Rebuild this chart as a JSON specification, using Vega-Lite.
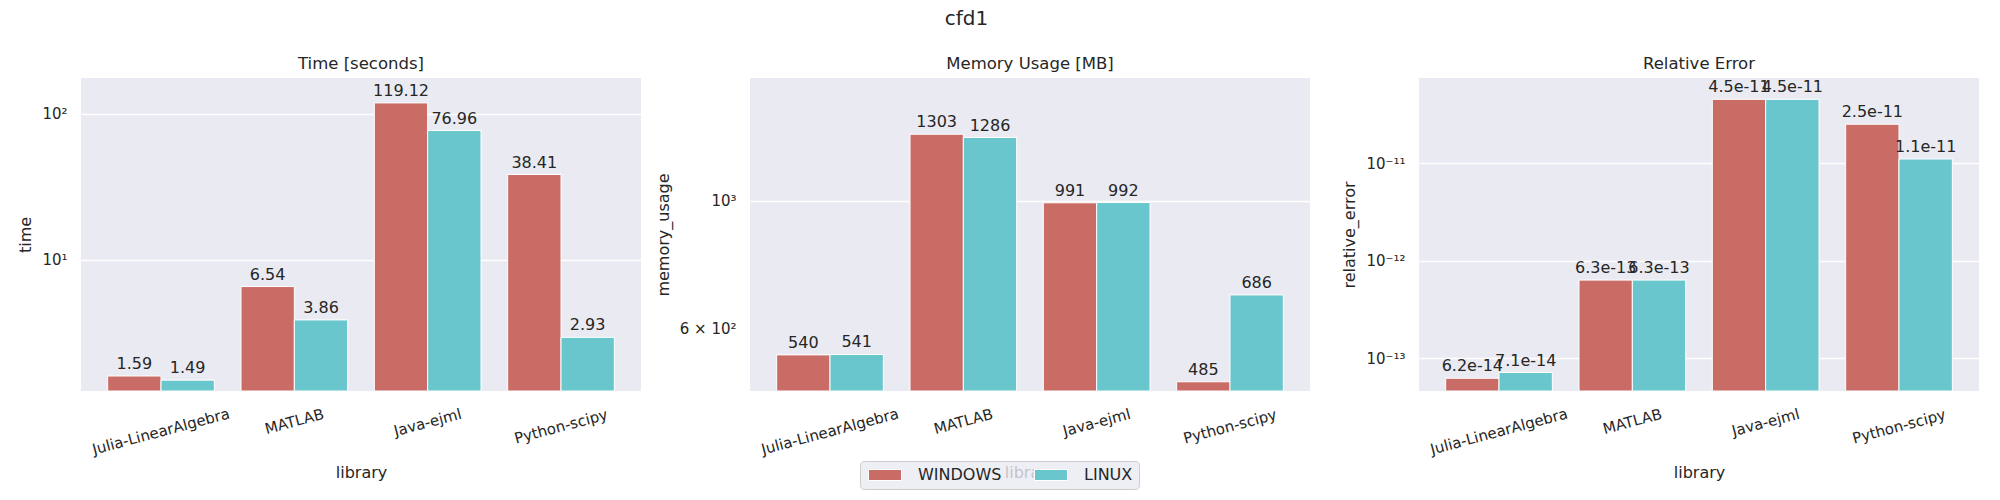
{
  "$schema": "https://vega.github.io/schema/vega-lite/v6.json",
  "background": "white",
  "padding": {"left": 17, "top": 8, "right": 5, "bottom": 5},
  "title": {"text": "cfd1", "anchor": "middle", "fontSize": 20, "fontWeight": "normal", "font": "DejaVu Sans", "color": "#262626", "dx": -32, "offset": 27},
  "data": {"values": [
    {"library": "Julia-LinearAlgebra", "os": "WINDOWS", "time": 1.59, "memory_usage": 540, "relative_error": 6.2e-14},
    {"library": "Julia-LinearAlgebra", "os": "LINUX", "time": 1.49, "memory_usage": 541, "relative_error": 7.1e-14},
    {"library": "MATLAB", "os": "WINDOWS", "time": 6.54, "memory_usage": 1303, "relative_error": 6.3e-13},
    {"library": "MATLAB", "os": "LINUX", "time": 3.86, "memory_usage": 1286, "relative_error": 6.3e-13},
    {"library": "Java-ejml", "os": "WINDOWS", "time": 119.12, "memory_usage": 991, "relative_error": 4.5e-11},
    {"library": "Java-ejml", "os": "LINUX", "time": 76.96, "memory_usage": 992, "relative_error": 4.5e-11},
    {"library": "Python-scipy", "os": "WINDOWS", "time": 38.41, "memory_usage": 485, "relative_error": 2.5e-11},
    {"library": "Python-scipy", "os": "LINUX", "time": 2.93, "memory_usage": 686, "relative_error": 1.1e-11}
  ]},
  "bounds": "flush",
  "spacing": 109,
  "resolve": {"scale": {"color": "independent", "y": "independent"}, "legend": {"color": "independent"}},
  "hconcat": [
    {
      "width": 560, "height": 313,
      "title": {"text": "Time [seconds]"},
      "encoding": {
        "x": {"field": "library", "type": "nominal", "sort": ["Julia-LinearAlgebra", "MATLAB", "Java-ejml", "Python-scipy"], "title": "library",
          "axis": {"labelAngle": -15, "labelAlign": "center", "labelBaseline": "middle",
            "labelPadding": {"condition": [{"test": "datum.value === 'Julia-LinearAlgebra'", "value": 40}, {"test": "datum.value === 'MATLAB'", "value": 30}, {"test": "datum.value === 'Python-scipy'", "value": 35}], "value": 31}}},
        "xOffset": {"field": "os", "type": "nominal", "sort": ["WINDOWS", "LINUX"], "scale": {"domain": ["WINDOWS", "LINUX"], "paddingInner": 0, "paddingOuter": 0}},
        "y": {"field": "time", "type": "quantitative", "title": "time", "stack": null, "scale": {"type": "log", "domain": [1.255, 176.6], "nice": false},
          "axis": {"values": [10, 100], "labelExpr": "datum.value == 100 ? '10²' : '10¹'"}},
        "color": {"field": "os", "type": "nominal", "scale": {"domain": ["WINDOWS", "LINUX"], "range": ["#ca6c66", "#68c6cc"]}, "legend": null}
      },
      "layer": [
        {"mark": {"type": "bar", "stroke": "white", "strokeWidth": 1}, "encoding": {"y2": {"datum": 1.255}}},
        {"mark": {"type": "text", "baseline": "bottom", "dy": -4, "fontSize": 16},
         "encoding": {"text": {"field": "time", "type": "quantitative", "format": ".2f"}, "color": {"value": "#262626"}}}
      ]
    },
    {
      "width": 560, "height": 313,
      "title": {"text": "Memory Usage [MB]"},
      "encoding": {
        "x": {"field": "library", "type": "nominal", "sort": ["Julia-LinearAlgebra", "MATLAB", "Java-ejml", "Python-scipy"], "title": "library",
          "axis": {"labelAngle": -15, "labelAlign": "center", "labelBaseline": "middle",
            "labelPadding": {"condition": [{"test": "datum.value === 'Julia-LinearAlgebra'", "value": 40}, {"test": "datum.value === 'MATLAB'", "value": 30}, {"test": "datum.value === 'Python-scipy'", "value": 35}], "value": 31}}},
        "xOffset": {"field": "os", "type": "nominal", "sort": ["WINDOWS", "LINUX"], "scale": {"domain": ["WINDOWS", "LINUX"], "paddingInner": 0, "paddingOuter": 0}},
        "y": {"field": "memory_usage", "type": "quantitative", "title": "memory_usage", "stack": null, "scale": {"type": "log", "domain": [467.5, 1631], "nice": false},
          "axis": {"values": [600, 1000], "labelExpr": "datum.value == 1000 ? '10³' : '6 × 10²'",
            "gridOpacity": {"condition": {"test": "datum.value == 600", "value": 0}, "value": 1}}},
        "color": {"field": "os", "type": "nominal", "scale": {"domain": ["WINDOWS", "LINUX"], "range": ["#ca6c66", "#68c6cc"]},
          "legend": {"orient": "none", "legendX": 110, "legendY": 383, "direction": "horizontal", "title": null,
            "fillColor": "rgba(234,234,242,0.8)", "strokeColor": "#cccccc", "cornerRadius": 4, "padding": 6,
            "symbolType": "M-1,-1H5V1H-1Z", "symbolSize": 121, "symbolStrokeColor": "white", "symbolStrokeWidth": 1,
            "labelFontSize": 16, "labelFont": "DejaVu Sans", "labelColor": "#262626", "labelOffset": 36, "columnPadding": 30}}
      },
      "layer": [
        {"mark": {"type": "bar", "stroke": "white", "strokeWidth": 1}, "encoding": {"y2": {"datum": 467.5}}},
        {"mark": {"type": "text", "baseline": "bottom", "dy": -4, "fontSize": 16},
         "encoding": {"text": {"field": "memory_usage", "type": "quantitative", "format": "d"}, "color": {"value": "#262626"}}}
      ]
    },
    {
      "width": 560, "height": 313,
      "title": {"text": "Relative Error"},
      "encoding": {
        "x": {"field": "library", "type": "nominal", "sort": ["Julia-LinearAlgebra", "MATLAB", "Java-ejml", "Python-scipy"], "title": "library",
          "axis": {"labelAngle": -15, "labelAlign": "center", "labelBaseline": "middle",
            "labelPadding": {"condition": [{"test": "datum.value === 'Julia-LinearAlgebra'", "value": 40}, {"test": "datum.value === 'MATLAB'", "value": 30}, {"test": "datum.value === 'Python-scipy'", "value": 35}], "value": 31}}},
        "xOffset": {"field": "os", "type": "nominal", "sort": ["WINDOWS", "LINUX"], "scale": {"domain": ["WINDOWS", "LINUX"], "paddingInner": 0, "paddingOuter": 0}},
        "y": {"field": "relative_error", "type": "quantitative", "title": "relative_error", "stack": null, "scale": {"type": "log", "domain": [4.59e-14, 7.45e-11], "nice": false},
          "axis": {"values": [1e-13, 1e-12, 1e-11], "labelExpr": "datum.value > 5e-12 ? '10⁻¹¹' : (datum.value > 5e-13 ? '10⁻¹²' : '10⁻¹³')"}},
        "color": {"field": "os", "type": "nominal", "scale": {"domain": ["WINDOWS", "LINUX"], "range": ["#ca6c66", "#68c6cc"]}, "legend": null}
      },
      "layer": [
        {"mark": {"type": "bar", "stroke": "white", "strokeWidth": 1}, "encoding": {"y2": {"datum": 4.59e-14}}},
        {"mark": {"type": "text", "baseline": "bottom", "dy": -4, "fontSize": 16},
         "encoding": {"text": {"field": "relative_error", "type": "quantitative", "format": ".1e"}, "color": {"value": "#262626"}}}
      ]
    }
  ],
  "config": {
    "font": "DejaVu Sans",
    "view": {"fill": "#eaeaf2", "stroke": null},
    "scale": {"bandPaddingInner": 0.2, "bandPaddingOuter": 0.1},
    "title": {"fontSize": 16.5, "fontWeight": "normal", "color": "#262626", "offset": 6},
    "axis": {"domain": false, "ticks": false, "tickSize": 0, "labelFont": "DejaVu Sans", "labelFontSize": 15, "labelColor": "#262626",
      "titleFont": "DejaVu Sans", "titleFontSize": 16, "titleFontWeight": "normal", "titleColor": "#262626", "labelOverlap": false, "labelFlush": false, "labelBound": false},
    "axisX": {"grid": false, "titlePadding": 7},
    "axisY": {"grid": true, "gridColor": "white", "gridWidth": 1.3, "labelPadding": 14, "titlePadding": 8}
  }
}
